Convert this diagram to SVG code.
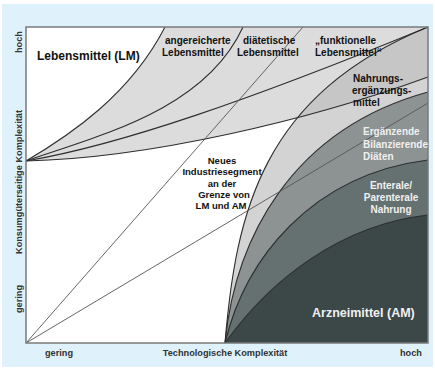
<svg xmlns="http://www.w3.org/2000/svg" width="435" height="369" viewBox="0 0 435 369">
  <style>
    .lbl { font-family: "Liberation Sans", Arial, sans-serif; font-weight: bold; fill: #111; }
    .axis { font-family: "Liberation Sans", Arial, sans-serif; font-weight: bold; font-size: 9.2px; fill: #333; }
    .light { fill: #f0f0f0; }
    .curve { fill: none; stroke: #2e2e2e; stroke-width: 1.1; }
    .ray { fill: none; stroke: #555; stroke-width: 0.9; }
  </style>
  <defs>
    <!-- outline of the food (LM) fan -->
    <path id="lmArea" d="M26,161 C70,135 130,95 165,27 L428,27 L428,77 C310,120 150,158 26,161 Z"/>
    <!-- outline of the outermost drug (AM) band -->
    <path id="amArea" d="M225,343 C236,212 262,95 428,27 L428,343 Z"/>
    <clipPath id="clipAm"><use href="#amArea"/></clipPath>
  </defs>

  <!-- page and plot area -->
  <rect x="0" y="0" width="435" height="369" fill="#ffffff"/>
  <rect x="2" y="4" width="431" height="363" fill="#dff2fb"/>
  <rect x="26" y="27" width="402" height="316" fill="#ffffff"/>

  <!-- area fills -->
  <g id="fills">
    <use href="#lmArea" fill="#dcdcdc"/>
    <use href="#amArea" fill="#d3d3d3"/>
    <use href="#lmArea" fill="#c6c6c6" clip-path="url(#clipAm)"/>
    <path d="M225,343 C235,240 290,130 428,92 L428,343 Z" fill="#8d9393"/>
    <path d="M225,343 C245,260 310,175 428,160 L428,343 Z" fill="#657070"/>
    <path d="M225,343 C270,280 340,225 428,215 L428,343 Z" fill="#3c4747"/>
  </g>

  <!-- boundary curves and rays -->
  <g id="connectors">
    <path class="curve" d="M26,161 C70,135 130,95 165,27"/>
    <path class="curve" d="M26,161 C100,135 205,110 243,27"/>
    <path class="curve" d="M26,161 C120,145 250,100 428,27"/>
    <path class="curve" d="M26,161 C150,158 310,120 428,77"/>
    <path class="curve" d="M225,343 C236,212 262,95 428,27"/>
    <path class="curve" d="M225,343 C235,240 290,130 428,92"/>
    <path class="curve" d="M225,343 C245,260 310,175 428,160"/>
    <path class="curve" d="M225,343 C270,280 340,225 428,215"/>
    <path class="ray" d="M26,343 L303,27"/>
    <path class="ray" d="M26,343 L428,103"/>
  </g>

  <!-- frame -->
  <rect x="26" y="27" width="402" height="316" fill="none" stroke="#7a7a7a" stroke-width="1.5"/>

  <!-- area labels -->
  <g id="lm">
    <text class="lbl" x="37" y="60" font-size="12">Lebensmittel (LM)</text>
  </g>
  <g id="angereichert">
    <text class="lbl" x="165" y="44" font-size="10">angereicherte</text>
    <text class="lbl" x="162" y="56" font-size="10">Lebensmittel</text>
  </g>
  <g id="diaetetisch">
    <text class="lbl" x="243" y="44" font-size="10">diätetische</text>
    <text class="lbl" x="237" y="56" font-size="10">Lebensmittel</text>
  </g>
  <g id="funktionell">
    <text class="lbl" x="315" y="44" font-size="10">„funktionelle</text>
    <text class="lbl" x="315" y="56" font-size="10">Lebensmittel“</text>
  </g>
  <g id="nem">
    <text class="lbl" x="353" y="82" font-size="10">Nahrungs-</text>
    <text class="lbl" x="352" y="94" font-size="10">ergänzungs-</text>
    <text class="lbl" x="353" y="106" font-size="10">mittel</text>
  </g>
  <g id="segment">
    <text class="lbl" x="222" y="164" font-size="9.5" text-anchor="middle">Neues</text>
    <text class="lbl" x="222" y="175" font-size="9.5" text-anchor="middle">Industriesegment</text>
    <text class="lbl" x="222" y="187" font-size="9.5" text-anchor="middle">an der</text>
    <text class="lbl" x="224" y="198" font-size="9.5" text-anchor="middle">Grenze von</text>
    <text class="lbl" x="221" y="209" font-size="9.5" text-anchor="middle">LM und AM</text>
  </g>
  <g id="ebd">
    <text class="lbl light" x="363" y="135" font-size="10">Ergänzende</text>
    <text class="lbl light" x="363" y="148" font-size="10">Bilanzierende</text>
    <text class="lbl light" x="363" y="160" font-size="10">Diäten</text>
  </g>
  <g id="enteral">
    <text class="lbl light" x="391" y="189" font-size="10" text-anchor="middle">Enterale/</text>
    <text class="lbl light" x="391" y="201" font-size="10" text-anchor="middle">Parenterale</text>
    <text class="lbl light" x="391" y="213" font-size="10" text-anchor="middle">Nahrung</text>
  </g>
  <g id="am">
    <text class="lbl light" x="312" y="317" font-size="12.5">Arzneimittel (AM)</text>
  </g>

  <!-- axis labels -->
  <g id="axes">
    <text class="axis" x="45" y="356">gering</text>
    <text class="axis" x="225" y="356" text-anchor="middle">Technologische Komplexität</text>
    <text class="axis" x="400" y="356">hoch</text>
    <text class="axis" transform="translate(22,53) rotate(-90)">hoch</text>
    <text class="axis" transform="translate(22,182) rotate(-90)" text-anchor="middle">Konsumgüterseitige Komplexität</text>
    <text class="axis" transform="translate(22,313) rotate(-90)">gering</text>
  </g>
</svg>
